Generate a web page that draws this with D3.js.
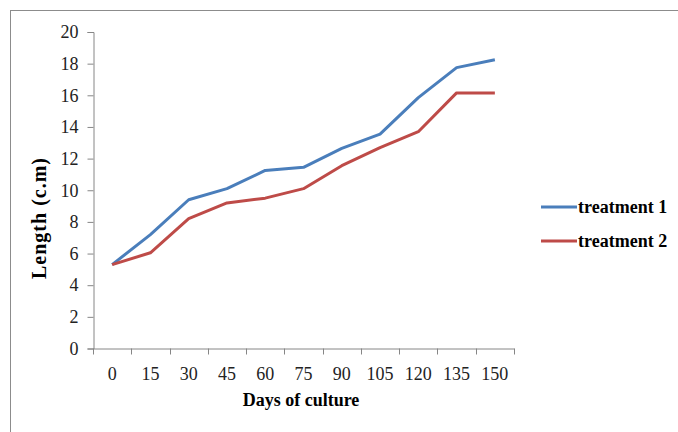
<!DOCTYPE html>
<html>
<head>
<meta charset="utf-8">
<script src="https://cdn.jsdelivr.net/npm/d3@7"></script>
<style>
  body { margin: 0; background: #fff; }
  svg { display: block; }
  text { font-family: "Liberation Serif", "Times New Roman", serif; }
</style>
</head>
<body>
<div id="chart"></div>
<script>
var days = ["0", "15", "30", "45", "60", "75", "90", "105", "120", "135", "150"];
var treatment1 = [5.3, 7.2, 9.4, 10.1, 11.25, 11.45, 12.65, 13.55, 15.85, 17.75, 18.25];
var treatment2 = [5.3, 6.05, 8.2, 9.2, 9.5, 10.1, 11.55, 12.7, 13.7, 16.15, 16.15];
var seriesNames = ["treatment 1", "treatment 2"];
var colors = ["#4a7ebb", "#be4b48"];
var yTicks = [0, 2, 4, 6, 8, 10, 12, 14, 16, 18, 20];

var svg = d3.select("#chart").append("svg")
    .attr("width", 678)
    .attr("height", 432);

// outer frame
svg.append("rect")
    .attr("x", 10.5).attr("y", 10.5)
    .attr("width", 700).attr("height", 500)
    .attr("fill", "none")
    .attr("stroke", "#8c8c8c")
    .attr("stroke-width", 1);

var x = d3.scaleBand()
    .domain(days)
    .range([93, 514]);

var y = d3.scaleLinear()
    .domain([0, 20])
    .range([348.5, 32]);

var yAxis = svg.append("g")
    .attr("transform", "translate(93.5,0)")
    .call(d3.axisLeft(y).tickValues(yTicks).tickSize(6).tickPadding(9));

var xAxis = svg.append("g")
    .attr("transform", "translate(0,348.5)")
    .call(d3.axisBottom(x).tickSize(0).tickPadding(19));

// tick marks between categories
var bounds = days.map(function(d) { return x(d); }).concat([x.range()[1]]);
xAxis.selectAll(".bound")
    .data(bounds)
    .enter().append("line")
    .attr("class", "bound")
    .attr("x1", function(d) { return Math.round(d) + 0.5; })
    .attr("x2", function(d) { return Math.round(d) + 0.5; })
    .attr("y1", 0).attr("y2", 6);

svg.selectAll(".domain, .tick line, .bound")
    .attr("stroke", "#868686");
svg.selectAll(".tick text")
    .attr("font-family", "Liberation Serif")
    .attr("font-size", 18)
    .attr("fill", "#222");

var line = d3.line()
    .x(function(d, i) { return x(days[i]) + x.bandwidth() / 2; })
    .y(function(d) { return y(d); });

[treatment1, treatment2].forEach(function(s, k) {
    svg.append("path")
        .datum(s)
        .attr("d", line)
        .attr("fill", "none")
        .attr("stroke", colors[k])
        .attr("stroke-width", 3)
        .attr("stroke-linejoin", "round");
});

// axis titles
svg.append("text")
    .attr("x", 301).attr("y", 406)
    .attr("text-anchor", "middle")
    .attr("font-size", 18)
    .attr("font-weight", "bold")
    .text("Days of culture");

svg.append("text")
    .attr("transform", "translate(46,218) rotate(-90)")
    .attr("text-anchor", "middle")
    .attr("font-size", 20)
    .attr("font-weight", "bold")
    .attr("letter-spacing", 1)
    .text("Length (c.m)");

// legend
var legend = svg.selectAll(".legend")
    .data(seriesNames)
    .enter().append("g")
    .attr("class", "legend")
    .attr("transform", function(d, i) { return "translate(541," + (207 + i * 34) + ")"; });

legend.append("line")
    .attr("x1", 0).attr("x2", 36)
    .attr("stroke", function(d, i) { return colors[i]; })
    .attr("stroke-width", 3);

legend.append("text")
    .attr("x", 37).attr("y", 6)
    .attr("font-size", 18)
    .attr("font-weight", "bold")
    .text(function(d) { return d; });
</script>
</body>
</html>
